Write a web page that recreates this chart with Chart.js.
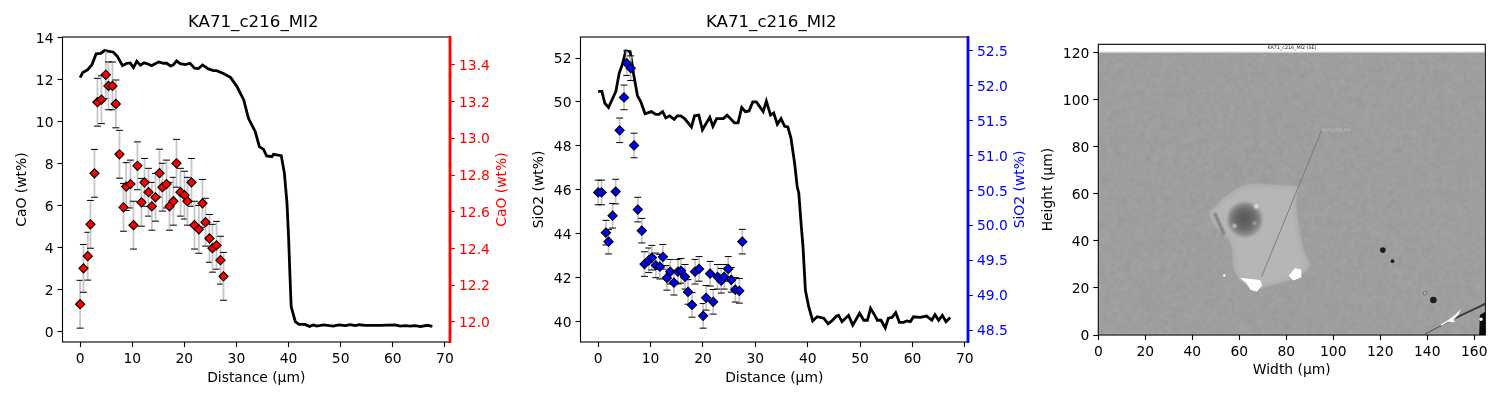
<!DOCTYPE html>
<html>
<head>
<meta charset="utf-8">
<title>KA71_c216_MI2</title>
<script src="https://cdn.jsdelivr.net/npm/chart.js@4"></script>
<style>
    html, body { margin: 0; padding: 0; background: #fff; }
    canvas { position: absolute; top: 0; }
</style>
</head>
<body>
<canvas id="caoChart" width="515" height="400" style="left:0"></canvas>
<canvas id="sio2Chart" width="525" height="400" style="left:515px"></canvas>
<canvas id="imageChart" width="460" height="400" style="left:1040px"></canvas>
<script>
const chartTitle = 'KA71_c216_MI2';
const spotDistance = [0, 0.64, 1.47, 1.98, 2.75, 3.33, 4.09, 4.93, 5.44, 6.21, 6.85, 7.55, 8.32, 8.83, 9.66, 10.24, 11.0, 11.77, 12.35, 13.12, 13.76, 14.46, 15.23, 15.8, 16.57, 17.15, 17.91, 18.49, 19.26, 20.03, 20.6, 21.37, 21.95, 22.78, 23.48, 24.06, 24.82, 25.4, 26.17, 26.94, 27.51];
const spotCao = [1.30, 3.01, 3.59, 5.11, 7.54, 10.93, 11.05, 12.24, 11.71, 11.71, 10.85, 8.45, 5.92, 6.91, 7.03, 5.07, 7.90, 6.16, 7.11, 6.64, 5.97, 6.40, 7.55, 6.88, 7.03, 5.97, 6.21, 8.02, 6.64, 6.50, 6.21, 7.11, 5.07, 4.87, 6.11, 5.21, 4.44, 3.97, 4.11, 3.40, 2.63];
const spotSio2 = [45.88, 45.88, 44.05, 43.64, 44.82, 45.92, 48.71, 50.21, 51.77, 51.54, 48.02, 45.10, 44.14, 42.62, 42.79, 42.91, 42.56, 42.50, 42.95, 41.99, 42.27, 41.77, 42.27, 42.31, 42.04, 41.35, 40.76, 42.27, 42.40, 40.26, 41.08, 42.18, 40.90, 42.04, 41.86, 42.04, 42.40, 41.90, 41.45, 41.40, 43.64];
const caoError = 1.14;
const sio2Error = 0.56;

const profileCaoX = [0, 0.51, 1.41, 2.24, 3.07, 3.96, 4.67, 5.57, 6.40, 7.17, 8.13, 8.96, 9.60, 10.24, 10.88, 11.58, 12.28, 13.0, 13.7, 15.04, 16.0, 16.6, 17.34, 17.9, 18.5, 19.2, 20.2, 21.1, 21.95, 22.7, 23.5, 24.6, 25.6, 26.2, 27.5, 28.9, 30.1, 31.4, 32.3, 33.6, 34.4, 35.2, 35.8, 36.8, 37.1, 38.6, 39.2, 39.7, 40.0, 40.3, 40.5, 41.3, 42.0, 43.2, 44.0, 44.8, 45.4, 46.7, 48.6, 49.6, 50.9, 51.8, 52.8, 53.6, 54.7, 57.6, 60.5, 61.4, 62.4, 63.3, 64.3, 65.3, 66.6, 67.6];
const profileCao = [13.331, 13.358, 13.373, 13.400, 13.460, 13.463, 13.478, 13.474, 13.469, 13.445, 13.396, 13.409, 13.411, 13.385, 13.420, 13.398, 13.411, 13.405, 13.396, 13.416, 13.409, 13.409, 13.394, 13.400, 13.422, 13.407, 13.402, 13.409, 13.382, 13.380, 13.400, 13.378, 13.369, 13.369, 13.353, 13.331, 13.282, 13.209, 13.109, 13.037, 12.955, 12.940, 12.904, 12.900, 12.913, 12.906, 12.810, 12.646, 12.465, 12.229, 12.084, 12.002, 11.987, 11.987, 11.976, 11.984, 11.978, 11.984, 11.978, 11.984, 11.980, 11.985, 11.980, 11.985, 11.982, 11.982, 11.984, 11.978, 11.980, 11.978, 11.980, 11.975, 11.982, 11.976];
const profileSio2X = [0, 0.7, 1.27, 1.97, 3.37, 4.0, 4.63, 5.27, 6.1, 6.73, 7.49, 8.13, 8.95, 10.16, 10.98, 11.6, 12.3, 12.9, 13.65, 14.5, 15.1, 15.75, 16.5, 17.8, 18.4, 19.2, 19.9, 21.3, 21.9, 22.6, 23.9, 24.6, 26.0, 26.7, 27.4, 28.1, 28.8, 29.5, 30.2, 31.5, 32.1, 32.9, 33.5, 34.2, 34.9, 35.6, 36.2, 36.8, 37.5, 38.0, 38.3, 38.73, 39.1, 39.56, 40.2, 40.95, 41.8, 43.05, 43.9, 44.6, 45.5, 45.9, 46.55, 47.8, 48.6, 49.9, 50.7, 51.4, 52.0, 52.8, 53.3, 54.0, 54.8, 55.4, 56.1, 56.8, 57.5, 58.3, 58.9, 59.6, 60.2, 61.5, 62.7, 63.7, 64.3, 65.0, 65.7, 66.4, 67.2];
const profileSio2 = [51.92, 51.92, 51.75, 51.69, 51.92, 52.18, 52.31, 52.50, 52.49, 52.18, 51.86, 51.77, 51.60, 51.63, 51.59, 51.59, 51.63, 51.54, 51.57, 51.52, 51.57, 51.57, 51.53, 51.41, 51.57, 51.58, 51.37, 51.55, 51.42, 51.53, 51.53, 51.58, 51.47, 51.47, 51.69, 51.63, 51.64, 51.77, 51.77, 51.63, 51.78, 51.58, 51.61, 51.45, 51.53, 51.42, 51.41, 51.25, 50.89, 50.55, 50.46, 50.03, 49.69, 49.07, 48.83, 48.63, 48.69, 48.67, 48.59, 48.63, 48.70, 48.71, 48.62, 48.71, 48.57, 48.74, 48.64, 48.64, 48.81, 48.71, 48.64, 48.64, 48.53, 48.67, 48.68, 48.75, 48.61, 48.61, 48.63, 48.62, 48.69, 48.68, 48.70, 48.64, 48.72, 48.64, 48.71, 48.62, 48.68];

const distanceTicks = [0, 10, 20, 30, 40, 50, 60, 70];
const caoTicks = [0, 2, 4, 6, 8, 10, 12, 14];
const caoRightTicks = [12.0, 12.2, 12.4, 12.6, 12.8, 13.0, 13.2, 13.4];
const sio2Ticks = [40, 42, 44, 46, 48, 50, 52];
const sio2RightTicks = [48.5, 49.0, 49.5, 50.0, 50.5, 51.0, 51.5, 52.0, 52.5];
const widthTicks = [0, 20, 40, 60, 80, 100, 120, 140, 160];
const heightTicks = [0, 20, 40, 60, 80, 100, 120];

// shapes of the SEM picture, in micrometres
const scanLine = [[69.5, 24.8], [95.0, 87.0]];
const inclusionShape = [[47.8, 51.7], [53.2, 57.3], [60.3, 62.3], [66.0, 63.7], [84.4, 62.6], [83.4, 56.6], [84.4, 46.7], [86.5, 36.8], [89.4, 29.7], [87.2, 26.9], [81.6, 24.1], [70.2, 20.9], [64.5, 21.2], [60.3, 24.1], [58.2, 28.3], [57.7, 36.8], [56.3, 41.0], [52.5, 43.9], [49.6, 47.4]];
const whiteBlobA = [[60.3, 24.3], [68.8, 23.4], [69.8, 21.2], [67.4, 18.4], [64.8, 19.2], [63.1, 21.9]];
const whiteBlobB = [[81.0, 25.2], [83.7, 28.4], [86.4, 27.8], [86.4, 24.6], [83.0, 23.2]];
const whiteBlobC = [[145.7, 4.5], [148.9, 6.4], [151.8, 8.5], [154.2, 10.9], [153.2, 8.5], [151.1, 6.4], [151.8, 5.4], [148.9, 5.6], [146.1, 3.9]];
const cornerBlack = [[162.1, 0], [162.4, 8.5], [164.7, 9.9], [164.7, 0]];
const darkDots = [[121.1, 36.1, 1.2], [125.2, 31.4, 0.8], [142.6, 14.9, 1.4]];

Chart.defaults.font.family = '"DejaVu Sans"';
Chart.defaults.font.size = 13.89;
Chart.defaults.color = '#000';

const toPoints = (xs, ys) => xs.map((x, i) => ({ x: x, y: ys[i] }));

// spines, the coloured right one with its rotated title, and the plot title
const framePlugin = {
    id: 'frame',
    afterDraw(chart, args, opts) {
        const { ctx, chartArea: a } = chart;
        ctx.save();
        ctx.strokeStyle = '#000';
        ctx.lineWidth = 1.1;
        ctx.strokeRect(a.left, a.top, a.right - a.left, a.bottom - a.top);
        if (opts.title) {
            ctx.fillStyle = '#000';
            ctx.font = '16.67px "DejaVu Sans"';
            ctx.textAlign = 'center';
            ctx.textBaseline = 'middle';
            ctx.fillText(opts.title, (a.left + a.right) / 2 - 3, 23);
        }
        if (opts.color) {
            ctx.strokeStyle = opts.color;
            ctx.lineWidth = 2.8;
            ctx.beginPath();
            ctx.moveTo(a.right, a.top - 1);
            ctx.lineTo(a.right, a.bottom + 1);
            ctx.stroke();
            ctx.fillStyle = opts.color;
            ctx.font = '13.89px "DejaVu Sans"';
            ctx.textAlign = 'center';
            ctx.textBaseline = 'middle';
            ctx.translate(a.right + opts.titleOffset, (a.top + a.bottom) / 2);
            ctx.rotate(-Math.PI / 2);
            ctx.fillText(opts.text, 0, 0);
        }
        ctx.restore();
    }
};

// error bars go under the diamonds
const errorBarPlugin = {
    id: 'errorBars',
    beforeDatasetDraw(chart, args, opts) {
        if (args.index !== 1) return;
        const { ctx, scales } = chart;
        const points = chart.data.datasets[1].data;
        ctx.save();
        points.forEach(p => {
            const px = scales.x.getPixelForValue(p.x);
            const hi = scales.y.getPixelForValue(p.y + opts.error);
            const lo = scales.y.getPixelForValue(p.y - opts.error);
            ctx.strokeStyle = '#c6c6c6';
            ctx.lineWidth = 1.8;
            ctx.beginPath();
            ctx.moveTo(px, hi);
            ctx.lineTo(px, lo);
            ctx.stroke();
            ctx.strokeStyle = '#000';
            ctx.lineWidth = 1;
            ctx.beginPath();
            ctx.moveTo(px - 3.5, hi);
            ctx.lineTo(px + 3.5, hi);
            ctx.moveTo(px - 3.5, lo);
            ctx.lineTo(px + 3.5, lo);
            ctx.stroke();
        });
        ctx.restore();
    }
};

function axisOptions(vertical, ticks, min, max, size, color, digits, extra) {
    return Object.assign({
        type: 'linear',
        min: min,
        max: max,
        border: { display: false },
        grid: { drawOnChartArea: false, drawTicks: true, tickLength: 5, tickWidth: 1.1, tickColor: color },
        ticks: {
            color: color,
            padding: 4,
            autoSkip: false,
            maxRotation: 0,
            // the blank first line drops the label about 1.5px onto its tick
            font: vertical ? { size: 13.89, lineHeight: 0.22 } : { size: 13.89 },
            callback: v => (vertical ? ['', v.toFixed(digits)] : v.toFixed(digits))
        },
        afterBuildTicks: scale => { scale.ticks = ticks.map(v => ({ value: v })); },
        afterFit: scale => {
            if (vertical) scale.width = size;
            else scale.height = size;
        }
    }, extra || {});
}

function axisTitle(text, padding) {
    return { display: true, text: text, color: '#000', font: { size: 13.89 }, padding: padding };
}

function profileChart(id, cfg) {
    new Chart(document.getElementById(id), {
        type: 'scatter',
        data: {
            datasets: [
                {
                    data: cfg.profile,
                    yAxisID: 'y1',
                    showLine: true,
                    borderColor: '#000',
                    borderWidth: 2.8,
                    pointRadius: 0,
                    order: 2
                },
                {
                    data: cfg.spots,
                    yAxisID: 'y',
                    backgroundColor: cfg.color,
                    borderColor: '#000',
                    borderWidth: 1.1,
                    pointStyle: 'rectRot',
                    pointRadius: 4.6,
                    order: 1
                }
            ]
        },
        options: {
            responsive: false,
            animation: false,
            layout: { padding: { top: 37, left: 0, right: 0, bottom: 0 } },
            plugins: {
                legend: { display: false },
                tooltip: { enabled: false },
                errorBars: { error: cfg.error },
                frame: { title: chartTitle, color: cfg.color, text: cfg.rightTitle, titleOffset: cfg.rightTitleOffset }
            },
            scales: {
                x: axisOptions(false, distanceTicks, -3.38, cfg.xMax, 58, '#000', 0, {
                    title: axisTitle('Distance (µm)', { top: 0, bottom: 13.5 })
                }),
                y: axisOptions(true, cfg.leftTicks, cfg.leftMin, cfg.leftMax, cfg.leftWidth, '#000', 0, {
                    title: axisTitle(cfg.leftTitle, { top: cfg.leftTitlePad, bottom: 0 })
                }),
                y1: axisOptions(true, cfg.rightTicks, cfg.rightMin, cfg.rightMax, cfg.rightWidth, cfg.color, 1, {
                    position: 'right'
                })
            }
        },
        plugins: [errorBarPlugin, framePlugin]
    });
}

profileChart('caoChart', {
    profile: toPoints(profileCaoX, profileCao),
    spots: toPoints(spotDistance, spotCao),
    error: caoError,
    color: '#ff0000',
    xMax: 70.98,
    leftTicks: caoTicks, leftMin: -0.5, leftMax: 14.04, leftWidth: 62.5, leftTitle: 'CaO (wt%)', leftTitlePad: 14,
    rightTicks: caoRightTicks, rightMin: 11.891, rightMax: 13.552, rightWidth: 65, rightTitle: 'CaO (wt%)', rightTitleOffset: 52
});

profileChart('sio2Chart', {
    profile: toPoints(profileSio2X, profileSio2),
    spots: toPoints(spotDistance, spotSio2),
    error: sio2Error,
    color: '#0000ff',
    xMax: 70.6,
    leftTicks: sio2Ticks, leftMin: 39.07, leftMax: 52.96, leftWidth: 65.5, leftTitle: 'SiO2 (wt%)', leftTitlePad: 16,
    rightTicks: sio2RightTicks, rightMin: 48.328, rightMax: 52.7, rightWidth: 72, rightTitle: 'SiO2 (wt%)', rightTitleOffset: 52
});

// the SEM picture, painted through the axes of the third chart
const semImagePlugin = {
    id: 'semImage',
    beforeDatasetsDraw(chart) {
        const { ctx, chartArea: a, scales } = chart;
        const X = v => scales.x.getPixelForValue(v);
        const Y = v => scales.y.getPixelForValue(v);
        const fillShape = (pts, color) => {
            ctx.fillStyle = color;
            ctx.beginPath();
            pts.forEach((p, i) => (i ? ctx.lineTo(X(p[0]), Y(p[1])) : ctx.moveTo(X(p[0]), Y(p[1]))));
            ctx.closePath();
            ctx.fill();
        };
        const dot = (x, y, r, color) => {
            ctx.fillStyle = color;
            ctx.beginPath();
            ctx.arc(X(x), Y(y), r * scales.x.width / 164.7, 0, Math.PI * 2);
            ctx.fill();
        };
        const w = Math.round(a.right - a.left), h = Math.round(a.bottom - a.top);

        // grain of the micrograph
        const grain = document.createElement('canvas');
        grain.width = w; grain.height = h;
        const gctx = grain.getContext('2d');
        const img = gctx.createImageData(w, h);
        for (let y = 0; y < h; y++) {
            for (let x = 0; x < w; x++) {
                let n = Math.imul(x * 73856093 ^ y * 19349663, 0x5bd1e995);
                n = Math.imul(n ^ (n >>> 15), 0x2c1b3c6d);
                const v = 146 + (((n ^ (n >>> 13)) >>> 0) % 26);
                const i = (y * w + x) * 4;
                img.data[i] = img.data[i + 1] = img.data[i + 2] = v;
                img.data[i + 3] = 255;
            }
        }
        gctx.putImageData(img, 0, 0);

        ctx.save();
        ctx.beginPath();
        ctx.rect(a.left, a.top, w, h);
        ctx.clip();
        ctx.filter = 'blur(0.8px)';
        ctx.drawImage(grain, a.left, a.top);
        ctx.filter = 'blur(1.3px)';

        // inclusion with its pale rim
        fillShape(inclusionShape, '#b6b6b6');
        ctx.strokeStyle = '#adadad';
        ctx.lineWidth = 3;
        ctx.stroke();
        ctx.strokeStyle = '#bcbcbc';
        ctx.lineWidth = 1;
        ctx.stroke();

        // bubble
        const grad = ctx.createRadialGradient(X(62), Y(49.6), 2, X(62.4), Y(49.1), 18);
        grad.addColorStop(0, '#5a5a5a');
        grad.addColorStop(0.55, '#6e6e6e');
        grad.addColorStop(0.85, '#8d8d8d');
        grad.addColorStop(1, '#a6a6a6');
        dot(62.4, 49.1, 7.5, grad);
        dot(67.2, 54.6, 0.8, '#fff');
        dot(58, 46.4, 0.7, '#fff');
        dot(66.5, 47.5, 0.5, '#e8e8e8');

        // dark streak on the left of the inclusion
        ctx.strokeStyle = '#3e3e3e';
        ctx.lineWidth = 1.7;
        ctx.setLineDash([4, 1]);
        ctx.beginPath();
        ctx.moveTo(X(49.6), Y(51.7));
        ctx.lineTo(X(53.5), Y(42.9));
        ctx.stroke();
        ctx.setLineDash([]);

        ctx.filter = 'blur(0.6px)';
        fillShape(whiteBlobA, '#fff');
        fillShape(whiteBlobB, '#fff');
        dot(53.6, 25.3, 0.5, '#fff');
        darkDots.forEach(d => dot(d[0], d[1], d[2], '#1c1c1c'));
        dot(139, 17.7, 0.9, '#707070');
        dot(139, 17.7, 0.45, '#d0d0d0');

        // sample edge, lower right corner
        ctx.strokeStyle = '#4a4a4a';
        ctx.lineWidth = 1;
        ctx.beginPath();
        ctx.moveTo(X(139), Y(0.4));
        ctx.lineTo(X(164.7), Y(13.6));
        ctx.stroke();
        ctx.strokeStyle = '#3a3a3a';
        ctx.lineWidth = 1.8;
        ctx.beginPath();
        ctx.moveTo(X(151.8), Y(7.2));
        ctx.lineTo(X(164.7), Y(13.2));
        ctx.stroke();
        fillShape(whiteBlobC, '#fff');
        fillShape(cornerBlack, '#0a0a0a');
        dot(162.9, 6.7, 0.7, '#fff');

        // white header strip of the micrograph
        ctx.filter = 'none';
        ctx.fillStyle = '#fff';
        ctx.fillRect(a.left, a.top, w, Y(120.4) - a.top);
        ctx.fillStyle = '#d8d8d8';
        ctx.fillRect(a.left, Y(120.4), w, 1);
        ctx.fillStyle = '#111';
        ctx.font = '4.8px "DejaVu Sans"';
        ctx.textAlign = 'center';
        ctx.textBaseline = 'middle';
        ctx.fillText('KA71_c216_MI2 (SE)', X(82.4), Y(122));
        ctx.fillStyle = '#c8c8c8';
        ctx.font = '3.6px "DejaVu Sans"';
        ctx.textAlign = 'left';
        ctx.fillText('KA71_c216_MI2', X(95.2), Y(87.2));
        ctx.restore();
    }
};

new Chart(document.getElementById('imageChart'), {
    type: 'scatter',
    data: {
        datasets: [{
            data: scanLine.map(p => ({ x: p[0], y: p[1] })),
            showLine: true,
            borderColor: '#6e6e6e',
            borderWidth: 0.8,
            pointRadius: 0
        }]
    },
    options: {
        responsive: false,
        animation: false,
        layout: { padding: { top: 44.3, right: 14.7, left: 0, bottom: 0 } },
        plugins: {
            legend: { display: false },
            tooltip: { enabled: false },
            frame: {}
        },
        scales: {
            x: axisOptions(false, widthTicks, 0, 164.7, 65, '#000', 0, {
                title: axisTitle('Width (µm)', { top: 0, bottom: 21 })
            }),
            y: axisOptions(true, heightTicks, 0, 123.6, 58.3, '#000', 0, {
                title: axisTitle('Height (µm)', { top: 0, bottom: 0 })
            })
        }
    },
    plugins: [semImagePlugin, framePlugin]
});
</script>
</body>
</html>
